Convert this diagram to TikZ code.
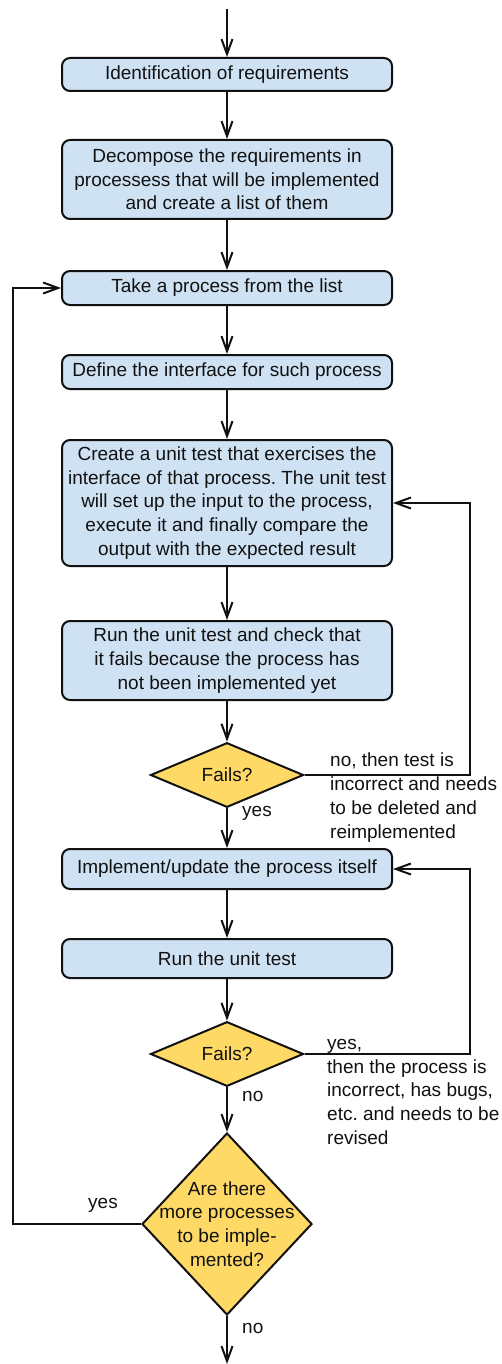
\documentclass[tikz,border=0pt]{standalone}
\usepackage{fontspec}
\setmainfont{Liberation Sans}
\usetikzlibrary{shapes.geometric,arrows.meta}
\definecolor{boxfill}{HTML}{CFE2F3}
\definecolor{diafill}{HTML}{FFD966}
\definecolor{ink}{HTML}{111111}
\frenchspacing
\begin{document}
\begin{tikzpicture}[x=1pt,y=-1pt,
  font=\fontsize{19}{23.7}\selectfont,
  proc/.style={draw=ink, line width=2pt, fill=boxfill, rounded corners=8pt,
    minimum width=330pt, align=center, inner sep=0pt, text=ink},
  dia/.style={diamond, draw=ink, line width=2pt, fill=diafill, inner sep=0pt, text=ink},
  conn/.style={draw=ink, line width=2pt, -{Straight Barb[length=15pt,width=11pt]}},
  lbl/.style={inner sep=0pt, text=ink, align=left}]
\useasboundingbox (0,0) rectangle (502,1364);
\coordinate (start) at (227,9);
\node[proc, minimum height=33pt] (b1) at (227,74.5) {Identification of requirements};
\node[proc, minimum height=79pt] (b2) at (227,179.5) {Decompose the requirements in\\processess that will be implemented\\and create a list of them};
\node[proc, minimum height=34pt] (b3) at (227,288) {Take a process from the list};
\node[proc, minimum height=34pt] (b4) at (227,372) {Define the interface for such process};
\node[proc, minimum height=126pt] (b5) at (227,503) {Create a unit test that exercises the\\interface of that process. The unit test\\will set up the input to the process,\\execute it and finally compare the\\output with the expected result};
\node[proc, minimum height=79pt] (b6) at (227,660.5) {Run the unit test and check that\\it fails because the process has\\not been implemented yet};
\node[dia, minimum width=153pt, minimum height=49pt] (d1) at (227,775) {Fails?};
\node[proc, minimum height=40pt] (b7) at (227,869) {Implement/update the process itself};
\node[proc, minimum height=39pt] (b8) at (227,958.5) {Run the unit test};
\node[dia, minimum width=153pt, minimum height=49pt] (d2) at (227,1054) {Fails?};
\node[dia, minimum width=170pt, minimum height=182pt,
  label={[lbl,align=center]center:Are there\\more processes\\to be imple-\\mented?}] (d3) at (227,1224) {};
\coordinate (end) at (227,1364);
\coordinate (loopR) at (470,0);
\coordinate (loopL) at (13,0);

\draw[conn] (start) -- (b1);
\draw[conn] (b1) -- (b2);
\draw[conn] (b2) -- (b3);
\draw[conn] (b3) -- (b4);
\draw[conn] (b4) -- (b5);
\draw[conn] (b5) -- (b6);
\draw[conn] (b6) -- (d1);
\draw[conn] (d1) -- (b7);
\draw[conn] (b7) -- (b8);
\draw[conn] (b8) -- (d2);
\draw[conn] (d2) -- (d3);
\draw[conn] (d3) -- (end);
\draw[conn] (d1.east) -- (d1.east -| loopR) -- (b5.east -| loopR) -- (b5.east);
\draw[conn] (d2.east) -- (d2.east -| loopR) -- (b7.east -| loopR) -- (b7.east);
\draw[conn] (d3.west) -- (d3.west -| loopL) -- (b3.west -| loopL) -- (b3.west);

\node[lbl, anchor=base west] (y1) at (242,816) {yes};
\node[lbl, anchor=north west] (n1txt) at (330,753) {no, then test is\\incorrect and needs\\to be deleted and\\reimplemented};
\node[lbl, anchor=base west] (n2) at (242,1101) {no};
\node[lbl, anchor=north west] (y2txt) at (327,1039) {yes,\\then the process is\\incorrect, has bugs,\\etc. and needs to be\\revised};
\node[lbl, anchor=base west] (y3) at (88,1208) {yes};
\node[lbl, anchor=base west] (n3) at (242,1333) {no};
\end{tikzpicture}
\end{document}
